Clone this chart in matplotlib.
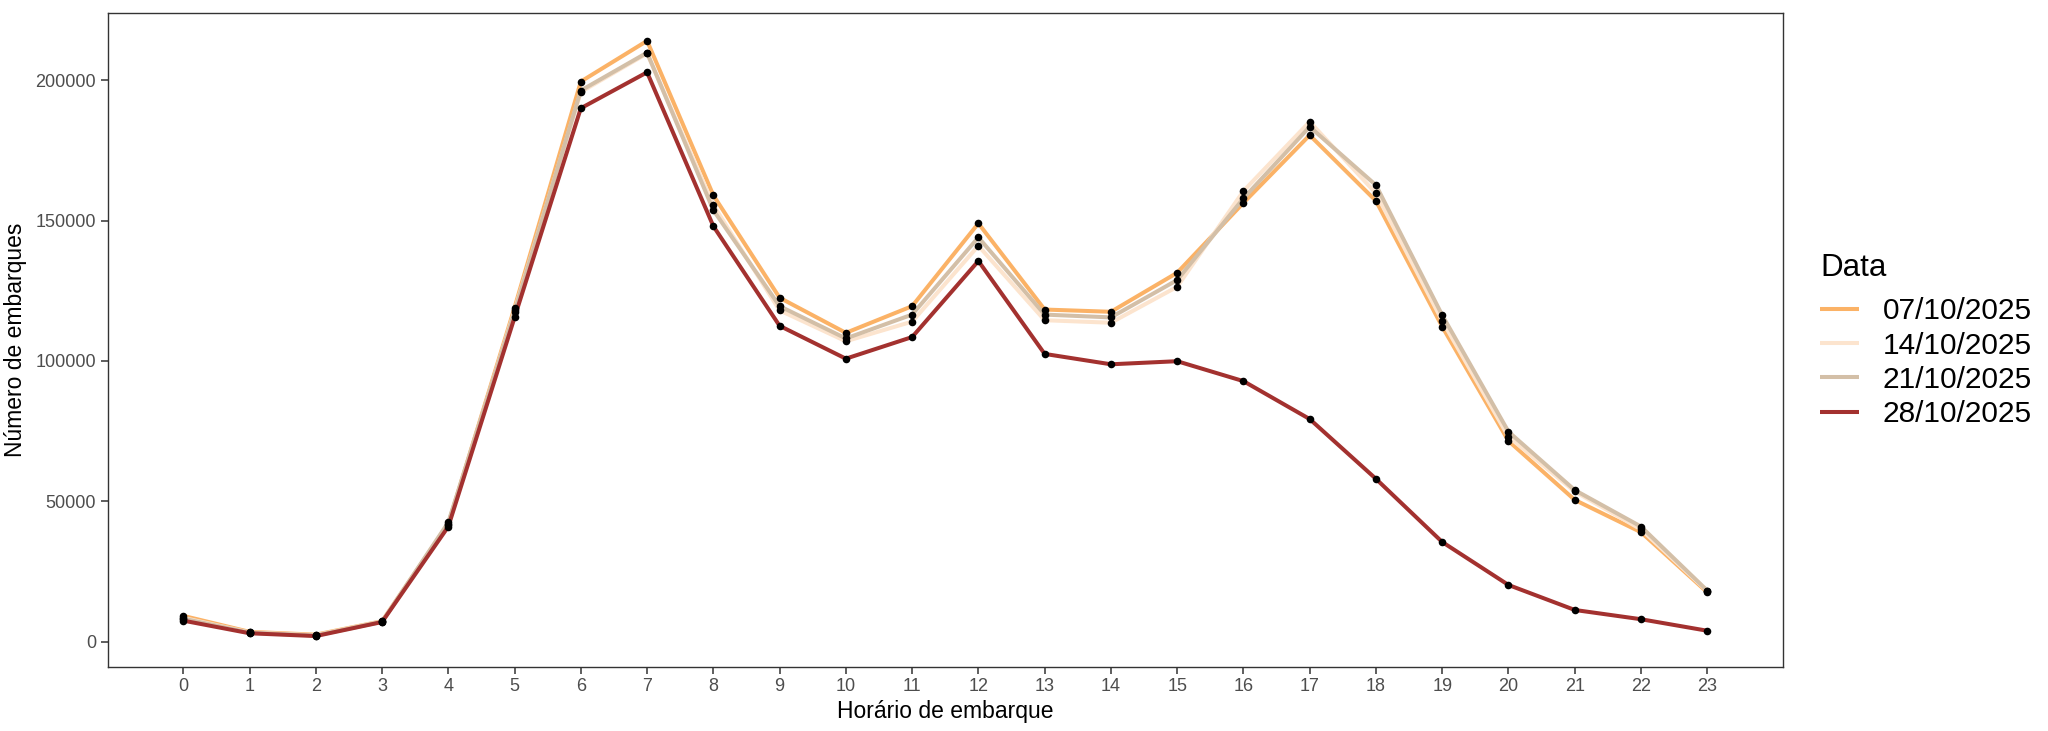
import matplotlib
matplotlib.use("Agg")
import matplotlib.pyplot as plt
import numpy as np

plt.rcParams['font.family'] = ['Liberation Sans', 'DejaVu Sans']

horas = list(range(24))
datas = ['07/10/2025', '14/10/2025', '21/10/2025', '28/10/2025']
cores = ['#FBB266', '#FCE4CE', '#D3BFA7', '#A3312F']

emb_0710 = [9200, 3500, 2500, 7300, 42000, 119000, 199500, 214000, 159000, 122500,
            110000, 119500, 149000, 118300, 117500, 131400, 156300, 180400, 157000,
            112200, 71500, 50500, 39000, 17600]
emb_1410 = [8500, 3300, 2300, 7200, 41500, 118000, 195800, 209500, 155500, 118000,
            107000, 114000, 141000, 114500, 113600, 126400, 160500, 185200, 159700,
            114300, 73000, 53500, 40000, 18000]
emb_2110 = [8200, 3200, 2200, 7100, 42500, 117500, 196300, 209800, 153700, 119500,
            108000, 116500, 144000, 116500, 115500, 128800, 157900, 183400, 162600,
            116300, 74800, 54000, 41000, 18200]
emb_2810 = [7500, 3000, 2000, 7000, 41000, 115500, 190000, 202800, 148000, 112500,
            100800, 108500, 135600, 102500, 98800, 99900, 92800, 79300, 58000,
            35500, 20200, 11300, 8000, 3900]

series = [emb_0710, emb_1410, emb_2110, emb_2810]

fig = plt.figure(figsize=(20.48, 7.31), dpi=100)
ax = fig.add_axes([0.0526, 0.088, 0.8179, 0.8949])

for nome, cor, vals in zip(datas, cores, series):
    ax.plot(horas, vals, color=cor, lw=2.9, label=nome, solid_capstyle='butt', zorder=2)
for vals in series:
    ax.scatter(horas, vals, s=30, color='black', zorder=3, linewidths=0)

ax.set_xlim(-1.14, 24.14)
ax.set_ylim(-8900, 224100)
ax.set_xticks(horas)
ax.set_yticks([0, 50000, 100000, 150000, 200000])
ax.set_yticklabels(['0', '50000', '100000', '150000', '200000'])
ax.tick_params(colors='#333333', labelcolor='#4D4D4D', labelsize=13, length=5, width=1.1)
for s in ax.spines.values():
    s.set_color('#333333')
    s.set_linewidth(1.0)

ax.set_xlabel('Horário de embarque', fontsize=16.5, labelpad=3)
ax.set_ylabel('Número de embarques', fontsize=16.5, labelpad=6)

h, l = ax.get_legend_handles_labels()
leg = fig.legend(h, l, title='Data', loc='upper left', bbox_to_anchor=(0.8887, 0.654),
                 frameon=False, fontsize=21.5, title_fontsize=22.5, handlelength=1.3,
                 handletextpad=0.8, labelspacing=0.21, borderaxespad=0, borderpad=0)
leg._legend_box.align = 'left'
leg._legend_box.sep = 10.4  # espaço extra entre o título e as entradas

fig.savefig('out.png', dpi=100)
